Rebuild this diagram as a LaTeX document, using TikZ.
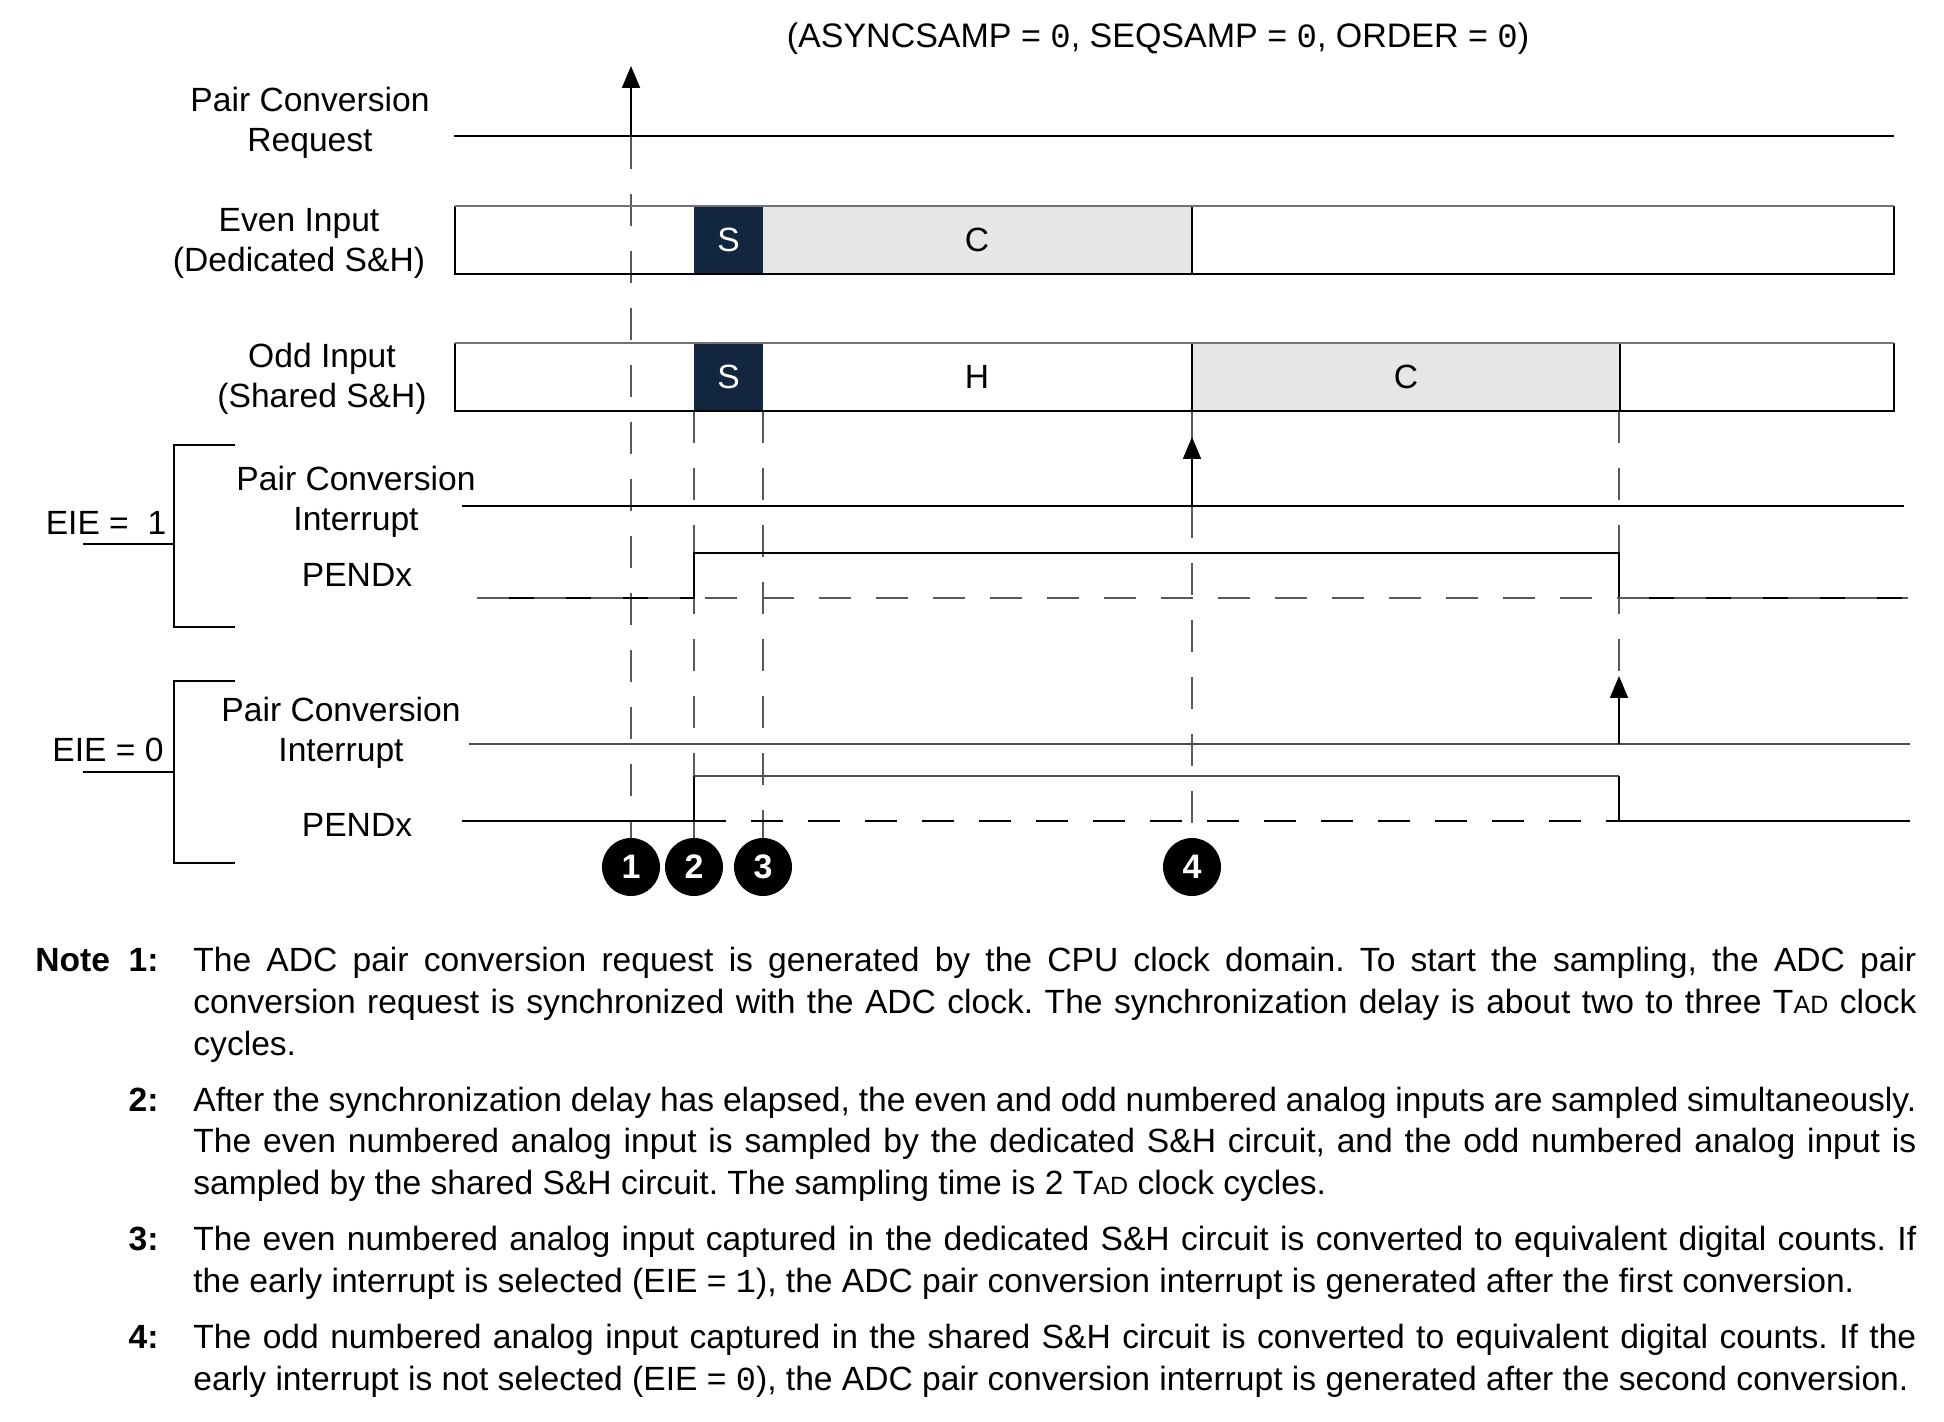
\documentclass[tikz,border=0pt]{standalone}
\usepackage{fontspec}
\setmainfont{Liberation Sans}
\newfontfamily\codefont{Liberation Mono}
\usetikzlibrary{arrows.meta}
\definecolor{navy}{HTML}{13263F}
\definecolor{cgray}{HTML}{E6E6E6}
\newcommand{\tad}{T{\fontsize{12.5}{13}\selectfont AD}}
\frenchspacing
\begin{document}
\begin{tikzpicture}[x=0.5pt,y=-0.5pt,
  lab/.style={font=\fontsize{16.8}{20}\selectfont, align=center, inner sep=0},
  sig/.style={line width=0.9pt, draw=black},
  dsh/.style={line width=0.7pt, draw=black!65, dash pattern=on 16pt off 12.5pt},
  arr/.style={-{Triangle[length=11pt,width=9pt]}, line width=0.9pt},
  num/.style={circle, fill=black, minimum size=29pt, inner sep=0, text=white, font=\bfseries\fontsize{17}{17}\selectfont},
  note/.style={anchor=base west, inner sep=0, font=\fontsize{16.8}{21}\selectfont},
  notenum/.style={anchor=base east, inner sep=0, font=\bfseries\fontsize{16.8}{21}\selectfont},
  boxline/.style={line width=0.8pt, draw=black},
  boxtop/.style={line width=1.3pt, draw=black!55}]
\useasboundingbox (0,0) rectangle (1944,1422);

% title
\node[lab, font=\fontsize{17}{20}\selectfont] (title) at (1158,39) {(ASYNCSAMP = {\codefont 0}, SEQSAMP = {\codefont 0}, ORDER = {\codefont 0})};

% row labels
\node[lab] (lreq) at (310,123) {Pair Conversion\\Request};
\node[lab] (leven) at (299,243) {Even Input\\(Dedicated S\&H)};
\node[lab] (lodd) at (322,379) {Odd Input\\(Shared S\&H)};
\node[lab] (lint1) at (356,502) {Pair Conversion\\Interrupt};
\node[lab] (lpend1) at (357,575) {PENDx};
\node[lab] (lint0) at (341,733) {Pair Conversion\\Interrupt};
\node[lab] (lpend0) at (357,825) {PENDx};
\node[lab] (eie1) at (106,523) {EIE =~~1};
\node[lab] (eie0) at (108,750) {EIE = 0};

% brackets
\draw[sig] (235,445) -- (174,445) -- (174,627) -- (235,627);
\draw[sig] (83,544) -- (174,544);
\draw[sig] (235,681) -- (174,681) -- (174,863) -- (235,863);
\draw[sig] (83,772) -- (174,772);

% vertical dashed guides
\draw[dsh] (631,137) -- (631,838);
\draw[dsh] (694,411) -- (694,838);
\draw[dsh] (763,411) -- (763,838);
\draw[dsh] (1192,506) -- (1192,838);
\draw[line width=0.7pt, draw=black!65] (1192,411) -- (1192,440);
\draw[dsh] (1619,411) -- (1619,676);

% even input box
\fill[navy] (694,206) rectangle (763,274);
\fill[cgray] (763,206) rectangle (1192,274);
\draw[boxline] (455,206) -- (455,274) -- (1894,274) -- (1894,206);
\draw[boxline] (1192,206) -- (1192,274);
\draw[boxtop] (455,206) -- (1894,206);
\node[text=white, font=\fontsize{16.8}{20}\selectfont] (se) at (728.5,240) {S};
\node[font=\fontsize{16.8}{20}\selectfont] (ce) at (977,240) {C};

% odd input box
\fill[navy] (694,343) rectangle (763,411);
\fill[cgray] (1192,343) rectangle (1620,411);
\draw[boxline] (455,343) -- (455,411) -- (1894,411) -- (1894,343);
\draw[boxline] (1192,343) -- (1192,411);
\draw[boxline] (1620,343) -- (1620,411);
\draw[boxtop] (455,343) -- (1894,343);
\node[text=white, font=\fontsize{16.8}{20}\selectfont] (so) at (728.5,377) {S};
\node[font=\fontsize{16.8}{20}\selectfont] (ho) at (977,377) {H};
\node[font=\fontsize{16.8}{20}\selectfont] (co) at (1406,377) {C};

% request
\draw[sig] (454,136) -- (1894,136);
\coordinate (rq0) at (631,136);
\coordinate (rq1) at (631,66);
\draw[sig, arr] (rq0) -- (rq1);

% EIE = 1
\draw[sig] (462,506) -- (1904,506);
\coordinate (i1a) at (1192,506);
\coordinate (i1b) at (1192,437);
\draw[sig, arr] (i1a) -- (i1b);
\draw[sig] (477,598) -- (694,598) -- (694,553) -- (1619,553) -- (1619,598) -- (1908,598);
\draw[dsh, line width=1pt] (477,598) -- (1908,598);

% EIE = 0
\draw[line width=0.9pt, draw=black!70] (469,744) -- (1910,744);
\coordinate (i0a) at (1619,744);
\coordinate (i0b) at (1619,676);
\draw[sig, arr] (i0a) -- (i0b);
\draw[sig] (462,821) -- (694,821) -- (694,776);
\draw[line width=0.9pt, draw=black!70] (694,776) -- (1619,776);
\draw[sig] (1619,776) -- (1619,821) -- (1910,821);
\draw[dsh, draw=black] (694,821) -- (1619,821);

% numbered markers
\node[num] (n1) at (631,867) {1};
\node[num] (n2) at (694,867) {2};
\node[num] (n3) at (763,867) {3};
\node[num] (n4) at (1192,867) {4};

% notes
\node[anchor=base west, inner sep=0, font=\bfseries\fontsize{16.8}{21}\selectfont] (notehd) at (35,971) {Note};
\node[notenum] (nn1) at (159,971) {1:};
\node[notenum] (nn2) at (159,1111) {2:};
\node[notenum] (nn3) at (159,1250) {3:};
\node[notenum] (nn4) at (159,1348) {4:};

\node[note] (t11) at (193,971) {\makebox[861.5pt][s]{The ADC pair conversion request is generated by the CPU clock domain. To start the sampling, the ADC pair}};
\node[note] (t12) at (193,1013) {\makebox[861.5pt][s]{conversion request is synchronized with the ADC clock. The synchronization delay is about two to three \tad{} clock}};
\node[note] (t13) at (193,1055) {cycles.};

\node[note] (t21) at (193,1111) {\makebox[861.5pt][s]{After the synchronization delay has elapsed, the even and odd numbered analog inputs are sampled simultaneously.}};
\node[note] (t22) at (193,1152) {\makebox[861.5pt][s]{The even numbered analog input is sampled by the dedicated S\&H circuit, and the odd numbered analog input is}};
\node[note] (t23) at (193,1194) {sampled by the shared S\&H circuit. The sampling time is 2 \tad{} clock cycles.};

\node[note] (t31) at (193,1250) {\makebox[861.5pt][s]{The even numbered analog input captured in the dedicated S\&H circuit is converted to equivalent digital counts. If}};
\node[note] (t32) at (193,1292) {the early interrupt is selected (EIE = {\codefont 1}), the ADC pair conversion interrupt is generated after the first conversion.};

\node[note] (t41) at (193,1348) {\makebox[861.5pt][s]{The odd numbered analog input captured in the shared S\&H circuit is converted to equivalent digital counts. If the}};
\node[note] (t42) at (193,1390) {early interrupt is not selected (EIE = {\codefont 0}), the ADC pair conversion interrupt is generated after the second conversion.};
\end{tikzpicture}
\end{document}
